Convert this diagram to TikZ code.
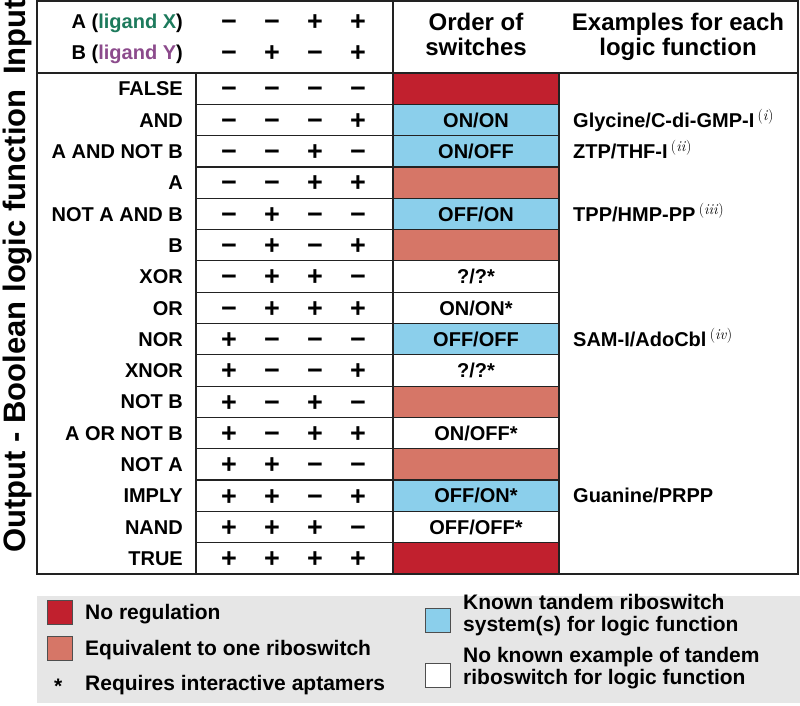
\documentclass[tikz,border=0pt]{standalone}
\usepackage{fontspec}
\setsansfont{Liberation Sans}
\renewcommand{\familydefault}{\sfdefault}
\definecolor{noreg}{HTML}{C1202E}
\definecolor{equiv}{HTML}{D67667}
\definecolor{known}{HTML}{8BCFEB}
\definecolor{ligx}{HTML}{1D7A5C}
\definecolor{ligy}{HTML}{8C4B8C}
\definecolor{legbg}{HTML}{E6E6E6}
\definecolor{rule}{HTML}{222222}
\newcommand{\supnote}[1]{\,\raisebox{7pt}{\rmfamily\mdseries\fontsize{15}{15}\selectfont(\textit{#1})}}
\tikzset{
  lbl/.style={anchor=base east, inner sep=0pt, font=\fontsize{20}{24}\selectfont\bfseries},
  sgn/.style={anchor=base, inner sep=0pt, font=\fontsize{27}{30}\selectfont\bfseries},
  ord/.style={anchor=base, inner sep=0pt, font=\fontsize{20}{24}\selectfont\bfseries},
  exm/.style={anchor=base west, inner sep=0pt, font=\fontsize{20}{24}\selectfont\bfseries},
  hdr/.style={anchor=base, inner sep=0pt, align=center, font=\fontsize{24}{25}\selectfont\bfseries},
  side/.style={anchor=base, inner sep=0pt, rotate=90, font=\fontsize{31}{34}\selectfont\bfseries},
  leg/.style={anchor=base west, inner sep=0pt, align=left, font=\fontsize{21}{22}\selectfont\bfseries},
  swatch/.style={draw=rule!80, line width=0.8pt, minimum width=25pt, minimum height=24pt, inner sep=0pt, anchor=north west},
  tline/.style={draw=rule, line width=1.6pt},
  rline/.style={draw=rule, line width=1.2pt}
}
\begin{document}
\begin{tikzpicture}[x=1pt,y=-1pt]
\useasboundingbox (0,0) rectangle (800,706);
% order column fills
\def\rh{31.3125}
\foreach \k/\c in {1/noreg,2/known,3/known,4/equiv,5/known,6/equiv,7/white,8/white,9/known,10/white,11/equiv,12/white,13/equiv,14/known,15/white,16/noreg}{
  \fill[\c] (393,{73+(\k-1)*\rh}) rectangle (559,{73+\k*\rh});
}
% row lines
\foreach \k in {1,...,15}{
  \draw[rline] (196,{73+\k*\rh}) -- (559,{73+\k*\rh});
}
% frame
\draw[tline] (37,1) rectangle (798,574);
\draw[tline] (37,73) -- (798,73);
\draw[tline] (196,73) -- (196,574);
\draw[tline] (393,1) -- (393,574);
\draw[tline] (559,73) -- (559,574);
% side labels
\node[side] (inp) at (25,37) {Input};
\node[side] (outp) at (25,321) {Output - Boolean logic function};
% input header
\node[lbl] (inA) at (183,29) {A (\textcolor{ligx}{ligand X})};
\node[lbl] (inB) at (183,60) {B (\textcolor{ligy}{ligand Y})};
\foreach \v [count=\i] in {−,−,+,+}{
  \node[sgn] (ia\i) at ({229+(\i-1)*43},{31}) {\v};
}
\foreach \v [count=\i] in {−,+,−,+}{
  \node[sgn] (ib\i) at ({229+(\i-1)*43},{62}) {\v};
}
\node[hdr] (ordh) at (476,56) {Order of\\switches};
\node[hdr] (exh) at (678,56) {Examples for each\\logic function};
% body rows
\foreach \k/\name/\s/\o in {
  1/FALSE/{−,−,−,−}/{},
  2/AND/{−,−,−,+}/{ON/ON},
  3/A AND NOT B/{−,−,+,−}/{ON/OFF},
  4/A/{−,−,+,+}/{},
  5/NOT A AND B/{−,+,−,−}/{OFF/ON},
  6/B/{−,+,−,+}/{},
  7/XOR/{−,+,+,−}/{?/?*},
  8/OR/{−,+,+,+}/{ON/ON*},
  9/NOR/{+,−,−,−}/{OFF/OFF},
  10/XNOR/{+,−,−,+}/{?/?*},
  11/NOT B/{+,−,+,−}/{},
  12/A OR NOT B/{+,−,+,+}/{ON/OFF*},
  13/NOT A/{+,+,−,−}/{},
  14/IMPLY/{+,+,−,+}/{OFF/ON*},
  15/NAND/{+,+,+,−}/{OFF/OFF*},
  16/TRUE/{+,+,+,+}/{}}{
  \pgfmathsetmacro{\yc}{73+(\k-0.5)*\rh}
  \node[lbl] (fn\k) at (183,{\yc+7.2}) {\name};
  \foreach \v [count=\i] in \s {
    \node[sgn] (s\k-\i) at ({229+(\i-1)*43},{\yc+9.3}) {\v};
  }
  \node[ord] (o\k) at (476,{\yc+7.2}) {\o};
}
% examples
\node[exm] (ex1) at (573,{73+1.5*\rh+7.2}) {Glycine/C-di-GMP-I\supnote{i}};
\node[exm] (ex2) at (573,{73+2.5*\rh+7.2}) {ZTP/THF-I\supnote{ii}};
\node[exm] (ex3) at (573,{73+4.5*\rh+7.2}) {TPP/HMP-PP\supnote{iii}};
\node[exm] (ex4) at (573,{73+8.5*\rh+7.2}) {SAM-I/AdoCbl\supnote{iv}};
\node[exm] (ex5) at (573,{73+13.5*\rh+7.2}) {Guanine/PRPP};
% legend
\fill[legbg] (37,596) rectangle (800,703);
\node[swatch, fill=noreg] (sw1) at (47,600) {};
\node[swatch, fill=equiv] (sw2) at (47,636) {};
\node[swatch, fill=known] (sw3) at (425,608) {};
\node[swatch, fill=white] (sw4) at (425,663) {};
\node[leg] (l1) at (85,619.5) {No regulation};
\node[leg] (l2) at (85,655.5) {Equivalent to one riboswitch};
\node[leg] (lst) at (54,693) {*};
\node[leg] (l3) at (85,690.5) {Requires interactive aptamers};
\node[leg, anchor=north west] (l4) at (463,594) {Known tandem riboswitch\\system(s) for logic function};
\node[leg, anchor=north west] (l5) at (463,647) {No known example of tandem\\riboswitch for logic function};
\end{tikzpicture}
\end{document}
